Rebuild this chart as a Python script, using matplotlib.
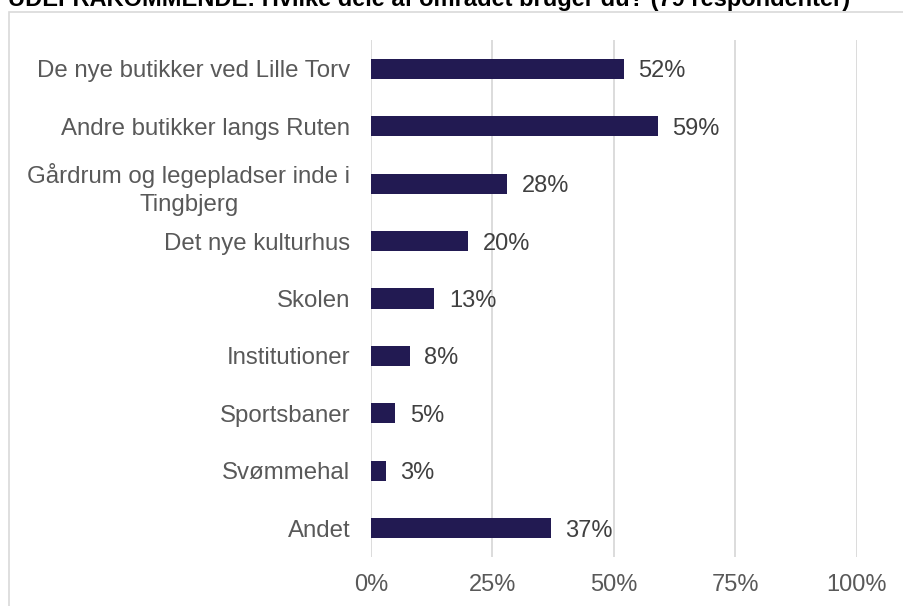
import numpy as np
import matplotlib.pyplot as plt
from matplotlib.patches import Rectangle

# Dati del grafico
categorie = ["De nye butikker ved Lille Torv",
             "Andre butikker langs Ruten",
             "Gårdrum og legepladser inde i\nTingbjerg",
             "Det nye kulturhus",
             "Skolen",
             "Institutioner",
             "Sportsbaner",
             "Svømmehal",
             "Andet"]
valori = [52, 59, 28, 20, 13, 8, 5, 3, 37]
tick_vals = [0, 25, 50, 75, 100]
titolo = "UDEFRAKOMMENDE: Hvilke dele af området bruger du? (79 respondenter)"

W, H = 904, 606
plt.rcParams["font.family"] = ["Liberation Sans", "DejaVu Sans"]

fig = plt.figure(figsize=(W / 100, H / 100), dpi=100)

# Bordo del riquadro (tagliato a destra e in basso)
fig.patches.append(Rectangle((9 / W, -0.1), 1.2, 1 - 12 / H + 0.1,
                             transform=fig.transFigure, fill=False,
                             edgecolor="#d9d9d9", linewidth=1.2))

# Titolo (tagliato in alto come nell'originale)
fig.text(8 / W, 1 - 6 / H, titolo, fontsize=17, fontweight="bold",
         color="black", va="baseline", ha="left")

ax = fig.add_axes([371 / W, (H - 557) / H, (857 - 371) / W, (557 - 40) / H])
y = np.arange(len(categorie))
ax.barh(y, valori, height=0.35, color="#221a52", zorder=3)
for yi, v in zip(y, valori):
    ax.text(v + 3.0, yi, f"{v}%", va="center_baseline", ha="left",
            fontsize=17, color="#404040")

ax.set_xlim(0, 100)
ax.set_ylim(len(categorie) - 0.5, -0.5)
ax.set_yticks(y)
ax.set_yticklabels(categorie, fontsize=17.3, color="#595959",
                   multialignment="center", linespacing=1.35)
ax.tick_params(axis="y", length=0, pad=15)

ax.set_xticks(tick_vals)
ax.set_xticklabels([f"{t}%" for t in tick_vals], fontsize=17, color="#595959")
ax.tick_params(axis="x", length=0, pad=12)
ax.grid(axis="x", color="#d9d9d9", linewidth=1.3, zorder=0)
for s in ax.spines.values():
    s.set_visible(False)

fig.savefig("out.png", dpi=100)
